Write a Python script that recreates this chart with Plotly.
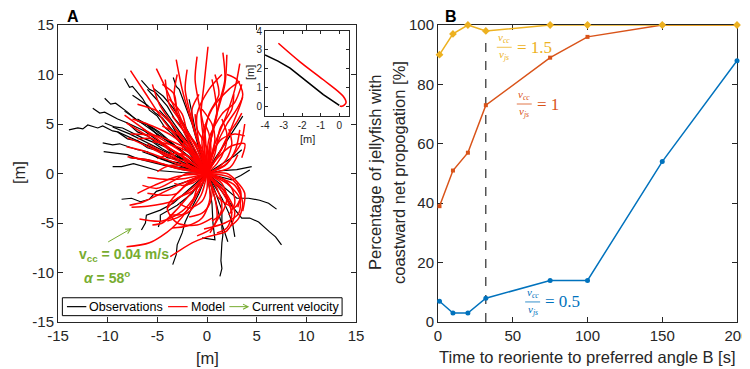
import plotly.graph_objects as go

# ---------------- Panel B data ----------------
time_s = [1, 10, 20, 32, 75, 100, 150, 200]
pct_ratio_15 = [90, 97, 100, 98, 100, 100, 100, 100]
pct_ratio_1 = [39, 51, 57, 73, 89, 96, 100, 100]
pct_ratio_05 = [7, 3, 3, 8, 14, 14, 54, 88]
reorient_time = 32

# ---------------- Panel A data (waypoints) ----------------
obs_paths = [
    [(0,0),(-2,0.8),(-3,1.4),(-4,1.6),(-5,2.3),(-6,2.6),(-7,3.3),(-8,3.5),(-9,4.2),(-9.5,4.3),(-10.5,4.8),(-11,4.6),(-12,4.9),(-12.5,4.5),(-13,4.6),(-13.9,4.4)],
    [(0,0),(-2.5,1.5),(-4,2.6),(-5,3.0),(-6,3.8),(-7,4.2),(-8,5.1),(-9,5.5),(-10.3,6.2),(-10.8,6.1),(-11.5,6.6)],
    [(0,0),(-2,1.8),(-4,3.4),(-5,3.9),(-6,4.9),(-7,5.3),(-8,6.2),(-9.2,7.1),(-9.7,7.0),(-10.3,7.6)],
    [(0,0),(-1.8,2),(-3.5,4),(-4.2,4.6),(-5,5.8),(-5.8,6.4),(-6.5,7.6),(-7.5,8.8),(-7.8,8.7),(-8.3,9.6)],
    [(0,0),(-1.3,2.5),(-2.8,5),(-3.3,5.6),(-4,6.8),(-5.2,8.2),(-5.8,8.5),(-6.6,9.4)],
    [(0,0),(-0.8,2.5),(-1.5,5),(-2.3,7.2),(-2.5,7.6),(-2.8,8.5),(-3.1,8.8),(-3.4,9.7)],
    [(0,0),(-2.5,0.7),(-5,1.6),(-6,2.2),(-7,2.4),(-8.8,3),(-9.5,2.9),(-10.5,3.1)],
    [(0,0),(-2.5,0.4),(-5,1),(-7,1.5),(-8,1.9),(-8.8,2),(-10.4,2.2)],
    [(0,0),(-2.5,0.1),(-5,0.3),(-7.4,1.0),(-8.6,0.7),(-9.5,0.7)],
    [(0,0),(-2.2,1.2),(-4.5,2.5),(-5.5,3.2),(-6.5,3.6),(-8.5,4.6),(-9.3,4.7),(-10.3,5.1)],
    [(0,0),(-1.5,1.8),(-3,3.8),(-4.5,5.6),(-5.2,6.1),(-6,6.9),(-7.5,7.9)],
    [(0,0),(-1,2.5),(-2.2,4.8),(-3.4,6.6),(-4.4,7.8),(-5.4,8.6)],
    [(0,0),(0.8,1.5),(1.8,3),(2.6,4.3),(3.2,5.2),(3.6,5.8)],
    [(0,0),(1.5,0.3),(3,0.4),(3.8,0.55),(4.5,0.7)],
    [(0,0),(1.3,-0.3),(2.5,-0.65),(3.4,-0.2),(4.3,0.35)],
    [(0,0),(-2,-0.8),(-3.8,-1.4),(-5.1,-1.8),(-5.8,-2.6),(-6.7,-2.85),(-7.6,-2.5),(-8.6,-2.6)],
    [(0,0),(-1.8,-1.6),(-3.4,-3),(-4.7,-3.7),(-6.1,-4.2),(-6.2,-5),(-6.6,-5.7)],
    [(0,0),(-1.5,-2),(-3,-3.2),(-4.2,-3.9),(-4.7,-4.2),(-4.7,-4.8),(-4.9,-5.4)],
    [(0,0),(-0.8,-2),(-1.6,-3.6),(-2.2,-4.9),(-2.5,-6),(-3.0,-7.2),(-3.1,-8.2),(-3.45,-9.2)],
    [(0,0),(0.7,-1.5),(1.5,-3.7),(1.5,-5.5),(1.6,-6.2),(1.5,-7.0),(1.4,-8.8),(1.5,-9.6),(1.3,-10.4)],
    [(0,0),(1.5,-1.8),(2.6,-3.4),(3.5,-4.5),(4.3,-4.5),(5.2,-4.9),(6.3,-5.9),(6.9,-6.4),(7.5,-7.2)],
    [(0,0),(1.5,-1.2),(3,-2.5),(4.2,-2.5),(5.3,-2.7),(6.2,-3.0),(7,-3.6)],
    [(0,0),(1.5,-2.5),(2.2,-4),(2.6,-5.2),(2.8,-6.4)],
    [(0,0),(0.8,-2.5),(1.3,-4.5),(2.1,-6.9)],
    [(0,0),(0.5,-3),(0.6,-5),(0.8,-6.7),(-0.5,-6.5)],
    [(0,0),(-2.5,1.2),(-5,2.4),(-7,3.3),(-9,4.2)],
    [(0,0),(-2,1.8),(-4.2,3.6),(-5.8,4.8),(-7,5.5)],
    [(0,0),(-2.5,2.2),(-5,4),(-6.8,5.3),(-8.3,6.3)],
    [(0,0),(-2,0.9),(-4,1.3),(-6.5,2.2)],
    [(0,0),(-1.3,2.3),(-2.8,4.3),(-4.2,6.2),(-5,7.4),(-6,8.5)],
    [(0,0),(1.5,1),(2.8,1.8),(3.5,2.4)],
    [(0,0),(-2,1.3),(-4,2.1),(-6,3.1),(-7.8,4),(-9.5,4.7)],
    [(0,0),(-2.3,1.6),(-4.5,3),(-6.3,4.3),(-8,5.1)],
    [(0,0),(-1.5,1.5),(-3.2,2.8),(-4.8,4.2),(-6.2,5.1)],
    [(0,0),(-2,0.5),(-4,0.8),(-6,1.4),(-7.8,1.6)],
    [(0,0),(-1.2,1.9),(-2.8,3.6),(-3.8,5.3),(-4.8,6.4)],
    [(0,0),(-0.5,2),(-1.1,4),(-1.5,6),(-1.8,7.5)],
]

model_paths = [
    [(0,0),(-0.3,3),(-0.6,6),(-0.3,9),(0.1,12.8)],
    [(0,0),(0.3,3),(1,6),(1.8,9),(2.0,12.0)],
    [(0,0),(0.8,3),(2,6),(2.8,8.5),(3.3,11.1)],
    [(0,0),(-0.8,3),(-1.8,6),(-2.5,8.5),(-3.1,11.5)],
    [(0,0),(-1.5,3),(-3,6),(-4,8.3),(-5.1,10.6)],
    [(0,0),(-2.5,3),(-4.5,5.5),(-6,7.8),(-7.7,10.4)],
    [(0,0),(-0.2,4),(-0.8,7),(-1.2,9.5),(-1,11.8)],
    [(0,0),(-1,3.5),(-1.8,6.5),(-2.2,8.5),(-2,10.5)],
    [(0,0),(0.8,2.5),(2,5),(3,6.5),(3.6,7.7)],
    [(0,0),(1.2,2),(2.2,4),(3,5.2),(3.5,6.1)],
    [(0,0),(0.5,4),(1.2,7),(1.8,9.5),(1.6,12.2)],
    [(0,0),(-1.8,2.5),(-3.5,5),(-4.8,7),(-5.5,9)],
    [(0,0),(-3,2),(-5,3.5),(-6.8,4.8),(-8.3,5.9)],
    [(0,0),(-2.5,1.8),(-5,3.2),(-6.8,4.3),(-8.1,5.1)],
    [(0,0),(-3,1),(-5,1.8),(-6.8,2.4),(-8.1,2.7)],
    [(0,0),(-3,0.6),(-5.5,1.2),(-8,1.7)],
    [(0,0),(-2.5,-1),(-5,-2.2),(-6.5,-2.9),(-7.8,-3.2)],
    [(0,0),(-1.5,-3),(-3.5,-5.5),(-5.8,-7),(-8.1,-7.4)],
    [(0,0),(1.8,-1.8),(2.8,-4),(2,-5.8),(0,-6.4),(-1.5,-7),(-3.7,-8.4)],
    [(0,0),(1.5,-1.8),(2.5,-4),(2,-5.5),(1,-6)],
    [(0,0),(-2.5,-1.5),(-4,-3.5),(-3,-5),(-1,-5.2),(0.5,-4.5)],
    [(0,0),(2,-1),(3.3,-2.5),(3.2,-4),(1.8,-5),(-0.3,-5.6)],
    [(0,0),(2.8,-1.2),(3.6,-3),(3.2,-4.5),(2.4,-5.3)],
    [(0,0),(-1,-2),(-2.5,-3.8),(-4.5,-4.8),(-6.8,-4.6)],
    [(0,0),(-3,-0.3),(-5.3,-1.2),(-7,-2)],
    [(0,0),(2.3,-0.4),(3.4,-1.8),(3.1,-3.4)],
    [(0,0),(0.8,-2.5),(1,-4.5),(0.3,-6)],
    [(0,0),(2,1),(2.9,2.5),(3.3,4.4)],
    [(0,0),(2.3,0.6),(3.1,1.9)],
    [(0,0),(0.3,3),(1,6),(0.8,8),(0.5,9.5)],
    [(0,0),(-0.8,3),(-1,6),(0.2,8.5),(1.5,10)],
    [(0,0),(-3,0.5),(-5.5,1.3),(-7.6,1.6)],
    [(0,0),(-2,1.8),(-4.3,3.3),(-6.5,4.5)],
    [(0,0),(-1.8,2.8),(-3.4,4.8),(-5,6.3),(-7,7)],
    [(0,0),(-1,2.5),(-2.4,5),(-3.3,7.8),(-3,10)],
    [(0,0),(-0.3,3),(0.2,6),(1.2,8),(0.8,10)],
    [(0,0),(-1.5,-1.5),(-3.5,-2.8),(-6,-3.3),(-7.6,-3.4)],
    [(0,0),(-1.8,-2.2),(-3.2,-3.8),(-4.5,-5),(-5.5,-5.2)],
    [(0,0),(0.3,-2.5),(-0.5,-4.5),(-2,-5.3),(-3.5,-5.5)],
    [(0,0),(1.2,-2.5),(2.8,-3.4),(3.4,-2.3),(3,-1)],
    [(0,0),(1,1.5),(2.5,2.8),(3.8,3),(3.5,1.6)],
    [(0,0),(1.5,2.5),(2.8,5.5),(3.6,8),(3,9.5),(2,10)],
    [(0,0),(-0.5,3.5),(0.5,6.5),(2.2,8.5),(3.3,9.3)],
    [(0,0),(-1.2,2),(-3,3),(-5,3.8),(-7.7,4)],
    [(0,0),(-2.2,-0.5),(-4,-0.6),(-6,-0.4)],
    [(0,0),(1,-1.5),(1.5,-3.5),(0.5,-5.5),(-1,-6.3)],
    [(0,0),(-0.6,-2.2),(-2,-4),(-3.8,-4.2)],
    [(0,0),(0.5,2),(1.5,3.5),(2.8,4),(3.8,3.8)],
    [(0,0),(-1,1.5),(-2.5,2.5),(-4,3),(-5.5,3.2)],
    [(0,0),(-1.5,1),(-3,1.5),(-4.5,2.2),(-6,3)],
    [(0,0),(-0.5,2),(-1.5,3.5),(-2.5,4.5),(-3.5,5.8)],
    [(0,0),(0.5,2),(0.8,3.5),(0.5,5),(-0.5,6.5)],
    [(0,0),(1,1),(1.8,2.5),(2,4),(1.5,5.5)],
    [(0,0),(-2,-1),(-3,-2),(-4.5,-2.2),(-6,-2)],
    [(0,0),(-1,-1.5),(-1.5,-3),(-2.5,-4.2),(-4,-4.8)],
    [(0,0),(0.5,-1.5),(0.3,-3),(-0.5,-4),(-1.8,-4.4)],
    [(0,0),(1.5,-0.5),(2.5,-1.5),(2.8,-3),(2.2,-4.2)],
    [(0,0),(1,0.5),(2,1.5),(2.5,3),(2.2,4.5)],
    [(0,0),(-0.8,1),(-2,1.8),(-3.5,2),(-5,1.5)],
    [(0,0),(-1.2,0.3),(-2.5,0.8),(-3.8,0.8),(-5,0.2)],
    [(0,0),(-0.5,-1),(-1.5,-1.8),(-3,-2.5),(-4,-3.5)],
    [(0,0),(0.3,1.5),(-0.2,3),(-1,4.5),(-1.2,6)],
    [(0,0),(-1.5,2),(-2,4),(-2.5,6),(-3.8,7.5)],
    [(0,0),(0.8,2),(1.3,4.5),(2.5,6.5),(2.7,8)],
    [(0,0),(-0.3,2),(-1.2,4),(-1.5,6.5),(-0.8,8)],
    [(0,0),(-2.5,1),(-4,2.5),(-5.5,3.5),(-7,3.5)],
    [(0,0),(-2,0),(-3.5,-0.8),(-5,-1.5),(-6.5,-1.2)],
    [(0,0),(0,-1.5),(-0.5,-2.8),(-1.8,-3.5),(-2.8,-3)],
    [(0,0),(1.5,-1),(2,-2.5),(1.5,-4),(0.5,-4.8)],
    [(0,0),(2,0),(3,-0.8),(3.8,-2),(3.6,-3.8)],
    [(0,0),(1.8,0.8),(2.6,1.8),(3.4,3),(3.8,5)],
    [(0,0),(-3.5,1.5),(-5.5,2.5),(-7,3.2),(-8,3.6)],
    [(0,0),(-2,2.5),(-3.5,3.8),(-5.5,4.8),(-7.5,5.5)],
    [(0,0),(-1,1),(-2,2.8),(-3,4),(-4.5,4.8)],
    [(0,0),(0.2,1),(0.4,2.5),(0.2,4),(-0.2,5)],
    [(0,0),(-0.7,-0.5),(-1.5,-1),(-2.5,-1.2),(-3.3,-1)],
    [(0,0),(0.6,-0.8),(1.5,-1.5),(2.2,-2.8),(2.5,-4)],
    [(0,0),(-1,0.5),(-2,1),(-2.5,2),(-2.3,3.2)],
    [(0,0),(-1.2,3),(-2.8,5.5),(-3.8,7),(-4.2,9.5)],
    [(0,0),(0.2,3.5),(1.5,6),(2.8,7.2),(3.5,9)],
    [(0,0),(-2,3.5),(-3,6),(-3.3,8),(-4.5,9)],
]

inset_obs = [(-4,2.73),(-3.3,2.4),(-2.65,2.03),(-1.75,1.32),(-0.86,0.62),(-0.3,0.25),(0,0.05)]
inset_model = [(-3.28,3.35),(-2.1,2.35),(-0.86,1.41),(0.21,0.53),(0.36,0.18),(0.13,0.0),(0.03,0.02)]

current_arrow = [(-10.1, -7.0), (-7.58, -5.54)]

a_ticks = [-15, -10, -5, 0, 5, 10, 15]
b_xticks = [0, 50, 100, 150, 200]
b_yticks = [0, 20, 40, 60, 80, 100]
inset_xticks = [-4, -3, -2, -1, 0]
inset_yticks = [0, 1, 2, 3, 4]

# ---------------- styling ----------------
AX = '#262626'
BLUE, ORANGE, YELLOW, GREEN = '#0072BD', '#D95319', '#EDB120', '#77AC30'
FONT = 'Liberation Sans'
SERIF = 'Liberation Serif'

# page body has an 8px margin: the figure sits at (8, 8) in the 750x369 window
OFF = 8
W, H = 750 - OFF, 369 - OFF


def xd(px0, px1):
    return [(px0 - OFF) / W, (px1 - OFF) / W]


def yd(py_bottom, py_top):
    return [1 - (py_bottom - OFF) / H, 1 - (py_top - OFF) / H]


def flatten(paths):
    xs, ys = [], []
    for p in paths:
        xs += [q[0] for q in p] + [None]
        ys += [q[1] for q in p] + [None]
    return xs, ys


def axis(domain, rng, ticks, anchor, size=15, ticklen=5, layer='above traces'):
    return dict(domain=domain, range=rng, anchor=anchor, automargin=False,
                tickmode='array', tickvals=ticks, ticktext=[str(t) for t in ticks],
                ticks='inside', ticklen=ticklen, tickcolor=AX, tickwidth=1,
                showline=True, linecolor=AX, linewidth=1, mirror='ticks',
                showgrid=False, zeroline=False, layer=layer,
                tickfont=dict(family=FONT, size=size, color=AX))


fig = go.Figure()

ox, oy = flatten(obs_paths)
fig.add_trace(go.Scatter(x=ox, y=oy, mode='lines', line=dict(color='black', width=1.2),
                         xaxis='x', yaxis='y', showlegend=False, hoverinfo='skip'))
mx, my = flatten(model_paths)
fig.add_trace(go.Scatter(x=mx, y=my, mode='lines',
                         line=dict(color='#FF0000', width=1.5, shape='spline', smoothing=0.8),
                         xaxis='x', yaxis='y', showlegend=False, hoverinfo='skip'))

# inset
fig.add_trace(go.Scatter(x=[p[0] for p in inset_obs], y=[p[1] for p in inset_obs], mode='lines',
                         line=dict(color='black', width=1.6), xaxis='x3', yaxis='y3', showlegend=False))
fig.add_trace(go.Scatter(x=[p[0] for p in inset_model], y=[p[1] for p in inset_model], mode='lines',
                         line=dict(color='#FF0000', width=1.6, shape='spline'), xaxis='x3', yaxis='y3',
                         showlegend=False))

# panel B
fig.add_trace(go.Scatter(x=[reorient_time, reorient_time], y=[0, 98], mode='lines',
                         line=dict(color='black', width=1, dash='dash'), xaxis='x2', yaxis='y2', showlegend=False))
for vals, col, sym, sz in [(pct_ratio_05, BLUE, 'circle', 5), (pct_ratio_1, ORANGE, 'square', 4),
                           (pct_ratio_15, YELLOW, 'diamond', 6)]:
    fig.add_trace(go.Scatter(x=time_s, y=vals, mode='lines+markers', line=dict(color=col, width=1.5),
                             marker=dict(symbol=sym, size=sz, color=col), cliponaxis=False,
                             xaxis='x2', yaxis='y2', showlegend=False))

ann = []
shapes = []

# current velocity arrow and text (panel A)
ann.append(dict(x=current_arrow[1][0], y=current_arrow[1][1], ax=current_arrow[0][0], ay=current_arrow[0][1],
                xref='x', yref='y', axref='x', ayref='y', showarrow=True, arrowhead=5, arrowsize=1,
                arrowwidth=1, arrowcolor=GREEN, text=''))
ann.append(dict(x=-13.1, y=-8.2, xref='x', yref='y', xanchor='left', yanchor='middle', showarrow=False,
                text='<b>v<sub>cc</sub> = 0.04 m/s</b>', font=dict(family=FONT, size=14, color=GREEN)))
ann.append(dict(x=-12.6, y=-10.5, xref='x', yref='y', xanchor='left', yanchor='middle', showarrow=False,
                text='<b><i>α</i> = 58<sup>o</sup></b>', font=dict(family=FONT, size=14, color=GREEN)))

# legend (panel A)
shapes.append(dict(type='rect', xref='x', yref='y', x0=-14.56, x1=13.6, y0=-14.36, y1=-12.55,
                   line=dict(color='black', width=1), fillcolor='white', layer='above'))
ly = -13.45
shapes.append(dict(type='line', xref='x', yref='y', x0=-14.1, x1=-12.15, y0=ly, y1=ly,
                   line=dict(color='black', width=1.2), layer='above'))
shapes.append(dict(type='line', xref='x', yref='y', x0=-3.92, x1=-1.95, y0=ly, y1=ly,
                   line=dict(color='#FF0000', width=1.2), layer='above'))
ann.append(dict(x=4.25, y=ly, ax=2.1, ay=ly, xref='x', yref='y', axref='x', ayref='y', showarrow=True,
                arrowhead=5, arrowsize=1, arrowwidth=1, arrowcolor=GREEN, text=''))
for tx, t in [(-12.1, 'Observations'), (-1.85, 'Model'), (4.3, 'Current velocity')]:
    ann.append(dict(x=tx, y=ly, xref='x', yref='y', xanchor='left', yanchor='middle', showarrow=False,
                    text=t, font=dict(family=FONT, size=12.5, color='black')))


# fraction labels (panel B)
def frac(xc, ybar, rhs, col):
    ann.append(dict(x=xc, y=ybar, xref='x2', yref='y2', xanchor='center', yanchor='bottom', yshift=0,
                    showarrow=False, text='<i>v<sub>cc</sub></i>',
                    font=dict(family=SERIF, size=11, color=col)))
    ann.append(dict(x=xc, y=ybar, xref='x2', yref='y2', xanchor='center', yanchor='top', yshift=1,
                    showarrow=False, text='<i>v<sub>js</sub></i>',
                    font=dict(family=SERIF, size=11, color=col)))
    shapes.append(dict(type='line', xref='x2', yref='y2', x0=xc - 5, x1=xc + 5, y0=ybar, y1=ybar,
                       line=dict(color=col, width=0.8)))
    ann.append(dict(x=xc + 7, y=ybar, xref='x2', yref='y2', xanchor='left', yanchor='middle',
                    showarrow=False, text=rhs, font=dict(family=SERIF, size=17, color=col)))


frac(44.3, 92.5, '= 1.5', YELLOW)
frac(57.7, 73.4, '= 1', ORANGE)
frac(63.3, 6.75, '= 0.5', BLUE)


# axis titles and panel labels (positions given in window pixels)
def text_at(px, py, t, size, angle=0, bold=False, fam=FONT, col=AX):
    ann.append(dict(x=(px - OFF) / W, y=1 - (py - OFF) / H, xref='paper', yref='paper',
                    xanchor='center', yanchor='middle',
                    showarrow=False, text=('<b>%s</b>' % t) if bold else t, textangle=angle,
                    font=dict(family=fam, size=size, color=col)))


text_at(207, 358, '[m]', 16.5)
text_at(19, 173, '[m]', 16.5, angle=-90)
text_at(587, 357, 'Time to reoriente to preferred angle B [s]', 16.5)
text_at(375, 173, 'Percentage of jellyfish with', 16.5, angle=-90)
text_at(399, 173, 'coastward net propogation [%]', 16.5, angle=-90)
text_at(307, 139, '[m]', 11)
text_at(250, 73, '[m]', 11, angle=-90)

# panel letters, anchored to the top of the figure so they are not cut off
for px, letter in [(73, 'A'), (451, 'B')]:
    ann.append(dict(x=(px - OFF) / W, y=1, xref='paper', yref='paper', xanchor='center', yanchor='top',
                    yshift=1, borderpad=0, showarrow=False, text='<b>%s</b>' % letter,
                    font=dict(family=FONT, size=16, color='black')))

fig.update_layout(
    width=W, height=H, margin=dict(l=0, r=0, t=0, b=0, pad=0), template=None,
    paper_bgcolor='white', plot_bgcolor='white', showlegend=False,
    xaxis=axis(xd(58, 356), [-15, 15], a_ticks, 'y'),
    yaxis=axis(yd(322, 25), [-15, 15], a_ticks, 'x'),
    xaxis2=axis(xd(438, 737), [0, 200], b_xticks, 'y2', layer='below traces'),
    yaxis2=axis(yd(322, 25), [0, 100], b_yticks, 'x2', layer='below traces'),
    xaxis3=axis(xd(265, 348.6), [-4, 0.5], inset_xticks, 'y3', size=10, ticklen=3),
    yaxis3=axis(yd(115.7, 31), [-0.5, 4], inset_yticks, 'x3', size=10, ticklen=3),
    annotations=ann, shapes=shapes,
)
fig.write_html('out.html')
